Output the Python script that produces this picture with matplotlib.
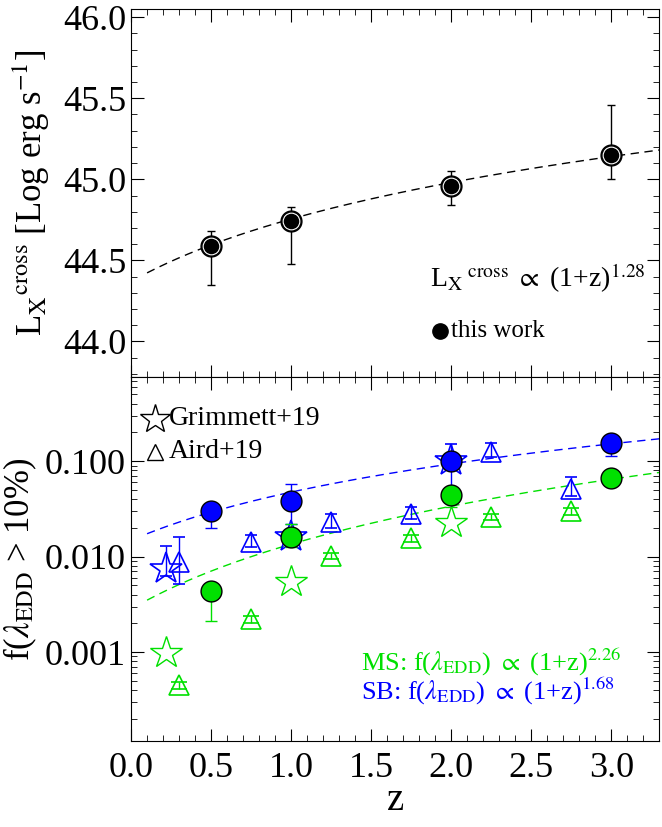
import numpy as np
import matplotlib.pyplot as plt
from matplotlib.ticker import AutoMinorLocator, FixedLocator, NullFormatter, LogLocator

plt.rcParams['font.family'] = ['Liberation Serif', 'DejaVu Serif']
plt.rcParams['mathtext.fontset'] = 'stix'

# top panel: L_X cross vs z
z_lx = [0.5, 1.0, 2.0, 3.0]
lx = [44.59, 44.74, 44.96, 45.15]
lx_lo = [44.35, 44.48, 44.84, 45.00]
lx_hi = [44.68, 44.83, 45.05, 45.46]
lx_norm, lx_slope = 44.37, 1.28

# bottom panel: this work
z_tw = [0.5, 1.0, 2.0, 3.0]
ms_tw = [0.0044, 0.0162, 0.044, 0.066]
ms_tw_lo = [0.0021, 0.0125, 0.033, 0.060]
ms_tw_hi = [0.0044, 0.022, 0.044, 0.066]
sb_tw = [0.030, 0.038, 0.100, 0.155]
sb_tw_lo = [0.020, 0.022, 0.044, 0.112]
sb_tw_hi = [0.030, 0.057, 0.100, 0.155]

# Grimmett+19
z_gr = [0.22, 1.0, 2.0]
ms_gr = [0.00098, 0.0054, 0.0223]
sb_gr = [0.0075, 0.016, 0.100]
sb_gr_lo = [0.0062, 0.013, 0.100]
sb_gr_hi = [0.0130, 0.016, 0.150]

# Aird+19
z_ai = [0.3, 0.75, 1.25, 1.75, 2.25, 2.75]
ms_ai = [0.00045, 0.0022, 0.0102, 0.0155, 0.026, 0.030]
sb_ai = [0.0087, 0.0141, 0.023, 0.028, 0.126, 0.051]
sb_ai_lo = [0.0052, 0.0125, 0.020, 0.025, 0.110, 0.043]
sb_ai_hi = [0.0162, 0.0170, 0.028, 0.033, 0.155, 0.068]

ms_norm, ms_slope = 0.00282, 2.26
sb_norm, sb_slope = 0.0148, 1.68

GREEN = '#00e000'
BLUE = '#0000ff'

fig = plt.figure(figsize=(6.62, 8.27), dpi=100)
ax1 = fig.add_axes([0.198, 0.544, 0.798, 0.445])
ax2 = fig.add_axes([0.198, 0.104, 0.798, 0.440])

zfit = np.linspace(0.1, 3.3, 200)

# ---- top panel
ax1.plot(zfit, lx_norm + lx_slope * np.log10(1 + zfit), 'k--', lw=1, dashes=(6, 4))
ax1.errorbar(z_lx, lx, yerr=[np.subtract(lx, lx_lo), np.subtract(lx_hi, lx)],
             fmt='o', color='k', mfc='k', mec='k', ms=15, ecolor='k', elinewidth=1,
             capsize=3, zorder=3)
ax1.plot(z_lx, lx, 'o', ms=12, mfc='k', mec='w', mew=0.8, zorder=4)
ax1.set_xlim(0, 3.3)
ax1.set_ylim(43.78, 46.05)
ax1.yaxis.set_major_locator(FixedLocator([44.0, 44.5, 45.0, 45.5, 46.0]))
ax1.set_yticklabels(['44.0', '44.5', '45.0', '45.5', '46.0'])
ax1.xaxis.set_major_locator(FixedLocator([0, 0.5, 1, 1.5, 2, 2.5, 3]))
ax1.xaxis.set_major_formatter(NullFormatter())
ax1.set_ylabel(r'L$_{\rm X}$$^{\rm cross}$ [Log erg s$^{-1}$]', fontsize=25, labelpad=8)
ax1.text(0.565, 0.245, r'L$_{\rm X}$$^{\rm \ cross}$ $\propto$ (1+z)$^{1.28}$',
         transform=ax1.transAxes, fontsize=20)
ax1.plot([0.585], [0.125], 'o', color='k', ms=11, transform=ax1.transAxes, clip_on=False)
ax1.text(0.605, 0.125, 'this work', transform=ax1.transAxes, fontsize=18, va='center')

# ---- bottom panel
ax2.plot(zfit, sb_norm * (1 + zfit) ** sb_slope, '--', color=BLUE, lw=1, dashes=(6, 4))
ax2.plot(zfit, ms_norm * (1 + zfit) ** ms_slope, '--', color=GREEN, lw=1, dashes=(6, 4))

def errs(v, lo, hi):
    return [np.subtract(v, lo), np.subtract(hi, v)]

# Aird triangles
ax2.errorbar(z_ai, sb_ai, yerr=errs(sb_ai, sb_ai_lo, sb_ai_hi), fmt='^', color=BLUE,
             mfc='none', mec=BLUE, ms=15, mew=1.2, elinewidth=1, capsize=4)
ax2.errorbar(z_ai, ms_ai, yerr=[np.multiply(ms_ai, 0.08), np.multiply(ms_ai, 0.08)], fmt='^',
             color=GREEN, mfc='none', mec=GREEN, ms=15, mew=1.2, elinewidth=1, capsize=6)
# Grimmett stars
ax2.plot(z_gr, ms_gr, '*', mfc='none', mec=GREEN, ms=24, mew=1.0)
ax2.errorbar(z_gr, sb_gr, yerr=errs(sb_gr, sb_gr_lo, sb_gr_hi), fmt='*', color=BLUE,
             mfc='none', mec=BLUE, ms=24, mew=1.2, elinewidth=1, capsize=4)
# this work
ax2.errorbar(z_tw, sb_tw, yerr=errs(sb_tw, sb_tw_lo, sb_tw_hi), fmt='o', color=BLUE,
             mfc=BLUE, mec='k', ms=15, mew=1.0, elinewidth=1, capsize=4, zorder=4)
ax2.errorbar(z_tw, ms_tw, yerr=errs(ms_tw, ms_tw_lo, ms_tw_hi), fmt='o', color=GREEN,
             mfc=GREEN, mec='k', ms=15, mew=1.0, elinewidth=1, capsize=4, zorder=4)

ax2.set_yscale('log')
ax2.set_xlim(0, 3.3)
ax2.set_ylim(1.17e-4, 0.76)
ax2.yaxis.set_major_locator(FixedLocator([0.001, 0.01, 0.1]))
ax2.set_yticklabels(['0.001', '0.010', '0.100'])
ax2.yaxis.set_minor_locator(LogLocator(base=10, subs=np.arange(2, 10)))
ax2.yaxis.set_minor_formatter(NullFormatter())
ax2.xaxis.set_major_locator(FixedLocator([0, 0.5, 1, 1.5, 2, 2.5, 3]))
ax2.set_xticklabels(['0.0', '0.5', '1.0', '1.5', '2.0', '2.5', '3.0'])
ax2.set_xlabel('z', fontsize=28, labelpad=-2)
ax2.set_ylabel(r'f($\lambda_{\rm EDD}$ > 10%)', fontsize=25, labelpad=4)

ax2.plot([0.045], [0.885], '*', mfc='none', mec='k', ms=22, mew=1.0, transform=ax2.transAxes)
ax2.text(0.072, 0.885, 'Grimmett+19', transform=ax2.transAxes, fontsize=20, va='center')
ax2.plot([0.045], [0.795], '^', mfc='none', mec='k', ms=12, mew=1.0, transform=ax2.transAxes)
ax2.text(0.072, 0.795, 'Aird+19', transform=ax2.transAxes, fontsize=20, va='center')
ax2.text(0.435, 0.215, r'MS: f($\lambda_{\rm EDD}$) $\propto$ (1+z)$^{2.26}$',
         transform=ax2.transAxes, fontsize=19, color=GREEN, va='center')
ax2.text(0.435, 0.135, r'SB: f($\lambda_{\rm EDD}$) $\propto$ (1+z)$^{1.68}$',
         transform=ax2.transAxes, fontsize=19, color=BLUE, va='center')

for ax in (ax1, ax2):
    ax.tick_params(which='both', direction='in', top=True, right=True, labelsize=26)
    ax.tick_params(which='major', length=9)
    ax.tick_params(which='minor', length=4)
    ax.xaxis.set_minor_locator(AutoMinorLocator(5))
ax1.yaxis.set_minor_locator(AutoMinorLocator(5))
ax2.tick_params(axis='x', pad=8)
ax2.tick_params(axis='y', pad=4)

fig.savefig('out.png', dpi=100)
